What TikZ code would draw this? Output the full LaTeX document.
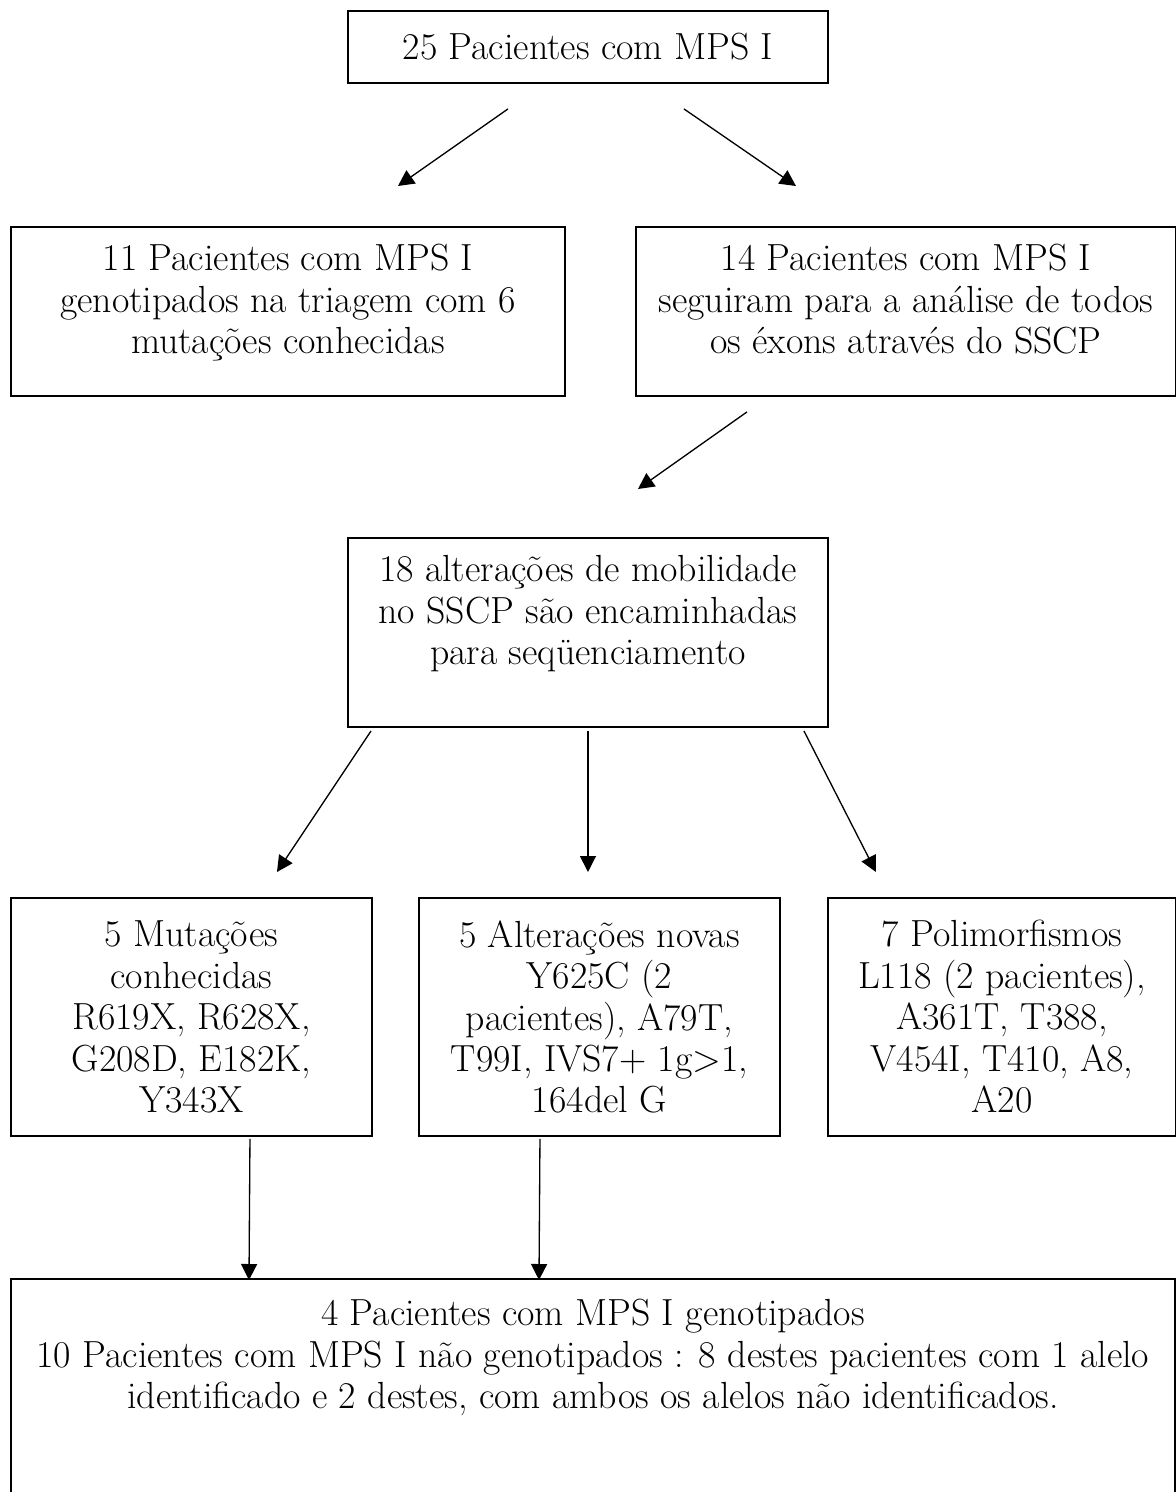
\documentclass[tikz,border=0pt]{standalone}
\usepackage{tikz}
\usetikzlibrary{calc, positioning, arrows.meta}
\tikzset{
    box/.style={rectangle, draw=black, line width=1.1pt, fill=white, align=center, inner sep=0pt, font=\fontsize{21.5}{23.6}\selectfont},
    arrow/.style={-{Triangle[length=0.32cm, width=0.32cm]}, line width=0.75pt}
}
\newcommand{\lift}[1]{\rule[-#1]{0pt}{0.1pt}}

\begin{document}
\begin{tikzpicture}
        \useasboundingbox (0,0) rectangle (23.52,-29.84);
        \clip (0,0) rectangle (23.52,-29.84);

        % all patients
        \node[box, minimum width=9.6cm, minimum height=1.44cm, anchor=north west] (Todos) at (6.94,-0.2) {25 Pacientes com MPS I};

        % first split
        \node[box, minimum width=11.08cm, minimum height=3.38cm, anchor=north west] (Triagem) at (0.2,-4.52) {11 Pacientes com MPS I\\genotipados na triagem com 6\\mutações conhecidas\lift{0.5cm}};
        \node[box, minimum width=10.8cm, minimum height=3.38cm, anchor=north west] (Sscp) at (12.7,-4.52) {14 Pacientes com MPS I\\seguiram para a análise de todos\\os éxons através do SSCP\lift{0.5cm}};

        % mobility shifts
        \node[box, minimum width=9.6cm, minimum height=3.78cm, anchor=north west] (Mobil) at (6.94,-10.74) {18 alterações de mobilidade\\no SSCP são encaminhadas\\para seqüenciamento\lift{0.9cm}};

        % results
        \node[box, minimum width=7.22cm, minimum height=4.76cm, anchor=north west] (Conhec) at (0.2,-17.94) {5 Mutações\\conhecidas\\R619X, R628X,\\G208D, E182K,\\Y343X};
        \node[box, minimum width=7.22cm, minimum height=4.76cm, anchor=north west] (Novas) at (8.36,-17.94) {5 Alterações novas\\Y625C (2\\pacientes), A79T,\\T99I, IVS7+ 1g>1,\\164del G};
        \node[box, minimum width=6.96cm, minimum height=4.76cm, anchor=north west] (Polim) at (16.54,-17.94) {7 Polimorfismos\\L118 (2 pacientes),\\A361T, T388,\\V454I, T410, A8,\\A20};

        % summary
        \node[box, minimum width=23.28cm, minimum height=6cm, anchor=north west] (Final) at (0.2,-25.56) {4 Pacientes com MPS I genotipados\\10 Pacientes com MPS I não genotipados : 8 destes pacientes com 1 alelo\\identificado e 2 destes, com ambos os alelos não identificados.\lift{3cm}};

        % arrow ends
        \coordinate (t1) at ($(Todos.south)+(-1.6,-0.5)$);
        \coordinate (t2) at ($(Todos.south)+(1.92,-0.5)$);
        \coordinate (h1) at ($(Triagem.north)+(2.2,0.8)$);
        \coordinate (h2) at ($(Sscp.north)+(-2.2,0.8)$);
        \coordinate (s1) at ($(Sscp.south)+(-3.18,-0.3)$);
        \coordinate (m0) at ($(Mobil.north)+(1,0.96)$);
        \coordinate (m1) at ($(Mobil.south west)+(0.48,-0.06)$);
        \coordinate (m2) at ($(Mobil.south)+(0,-0.06)$);
        \coordinate (m3) at ($(Mobil.south east)+(-0.5,-0.06)$);
        \coordinate (r1) at ($(Conhec.north)+(1.71,0.5)$);
        \coordinate (r2) at ($(Novas.north)+(-0.23,0.5)$);
        \coordinate (r3) at ($(Polim.north)+(-2.52,0.5)$);
        \coordinate (c1) at ($(Conhec.south)+(1.17,-0.04)$);
        \coordinate (n1) at ($(Novas.south)+(-1.19,-0.04)$);
        \coordinate (f1) at ($(Final.north west)+(4.78,-0.04)$);
        \coordinate (f2) at ($(Final.north west)+(10.58,-0.04)$);

        \draw[arrow] (t1) -- (h1);
        \draw[arrow] (t2) -- (h2);
        \draw[arrow] (s1) -- (m0);
        \draw[arrow] (m1) -- (r1);
        \draw[arrow] (m2) -- (r2);
        \draw[arrow] (m3) -- (r3);
        \draw[arrow] (c1) -- (f1);
        \draw[arrow] (n1) -- (f2);

    \end{tikzpicture}
\end{document}
